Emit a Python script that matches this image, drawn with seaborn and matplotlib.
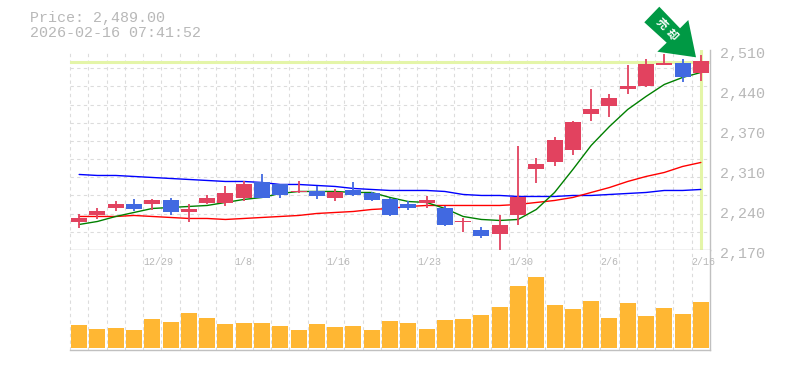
import matplotlib
matplotlib.use("Agg")
import matplotlib.pyplot as plt
from matplotlib.patches import Polygon
from matplotlib.transforms import ScaledTranslation
import numpy as np
import pandas as pd
import seaborn as sns

sns.set_style("white")
plt.rcParams['font.family'] = ['Liberation Mono', 'DejaVu Sans']

# ---------- data ----------
body_top = [2225.2,2235.5,2249.0,2247.4,2254.2,2254.2,2238.9,2257.6,2266.1,2283.0,2286.4,2283.0,2271.1,2271.1,2269.4,
            2272.8,2266.1,2255.9,2249.0,2254.2,2242.2,2220.1,2204.8,2213.3,2260.9,2317.0,2356.2,2386.8,2410.5,2427.6,
            2448.0,2485.4,2487.1,2487.1,2490.5]
body_bottom = [2218.4,2228.7,2240.6,2238.9,2247.4,2233.8,2233.8,2250.7,2250.7,2257.6,2259.2,2264.3,2269.4,2261.0,2259.2,
               2264.3,2254.2,2228.7,2242.2,2250.7,2213.3,2218.4,2194.6,2198.0,2230.3,2306.9,2320.4,2339.2,2400.4,2414.0,
               2442.9,2448.0,2483.7,2463.3,2470.1]
high = [2232.0,2242.2,2252.5,2255.9,2255.9,2259.2,2247.4,2264.3,2278.0,2288.0,2300.0,2283.0,2288.0,2279.6,2274.5,
        2286.4,2269.4,2259.2,2252.5,2261.0,2244.0,2225.2,2209.9,2230.3,2346.0,2327.2,2361.3,2388.5,2442.9,2434.4,
        2483.7,2493.9,2502.4,2493.9,2500.7]
low = [2208.2,2223.5,2235.5,2235.5,2237.2,2228.7,2218.4,2247.4,2244.0,2254.0,2259.0,2257.6,2267.7,2255.9,2252.5,
       2262.6,2252.5,2227.0,2237.2,2240.6,2211.6,2201.4,2191.2,2170.8,2213.3,2284.7,2313.6,2332.3,2388.5,2395.3,
       2434.4,2446.3,2483.7,2454.8,2456.5]
is_up = [1,1,1,0,1,0,1,1,1,1,0,0,1,0,1,0,0,0,0,1,0,1,0,1,1,1,1,1,1,1,1,1,1,0,1]
ma_blue = [2298.4,2296.7,2296.7,2295.0,2293.3,2291.6,2289.9,2288.2,2286.5,2286.5,2284.8,2281.4,2281.4,2279.7,2278.0,
           2274.6,2272.9,2271.2,2271.2,2271.2,2269.5,2264.4,2262.7,2262.7,2261.0,2261.0,2261.0,2262.7,2262.7,2264.4,
           2266.1,2267.8,2271.2,2271.2,2272.9]
ma_red = [2227.0,2227.0,2227.0,2228.7,2227.0,2225.3,2223.6,2223.6,2221.9,2223.6,2225.3,2227.0,2228.7,2232.1,2233.8,
          2235.5,2238.9,2240.6,2244.0,2245.7,2245.7,2245.7,2245.7,2245.7,2247.4,2250.8,2254.2,2259.3,2267.8,2276.2,
          2286.5,2295.0,2301.8,2312.0,2318.8]
ma_green = [2213.4,2218.5,2227.0,2233.8,2240.6,2242.3,2244.0,2245.7,2250.8,2255.9,2259.3,2266.1,2269.5,2269.5,2269.5,
            2267.8,2267.8,2259.3,2252.4,2250.8,2240.6,2227.0,2221.9,2220.2,2221.9,2238.9,2267.8,2306.9,2347.7,2379.9,
            2408.9,2431.0,2451.4,2463.3,2471.8]
volume = [23,19,20,18,29,26,35,30,24,25,25,22,18,24,21,22,18,27,25,19,28,29,33,41,62,71,43,39,47,30,45,32,40,34,46]
last_price = 2489.0
y_tick_values = [2510,2442,2374,2306,2238,2170]
y_tick_labels = ["2,510","2,440","2,370","2,310","2,240","2,170"]
x_label_idx = [3.5,8.5,13.5,18.5,23.5,28.5,33.5]
x_labels = ["12/29","1/8","1/16","1/23","1/30","2/6","2/16"]
title_lines = ["Price: 2,489.00","2026-02-16 07:41:52"]
arrow_glyphs = ["売", "却"]

# ---------- style ----------
W, H = 785, 370
C_UP, C_DOWN = "#e2425f", "#4169e1"
C_GRID, C_FRAME, C_TEXT = "#dcdcdc", "#c0c0c0", "#b8b8b8"
C_CROSS, C_VOL, C_ARROW = "#e4f5a8", "#ffb733", "#009944"
DASH = (0, (3, 3))

def px_rect(x0, y0, x1, y1):
    return [x0/W, 1-y1/H, (x1-x0)/W, (y1-y0)/H]

fig = plt.figure(figsize=(W/100, H/100), dpi=100, facecolor="white")
ax = fig.add_axes(px_rect(70, 50, 710, 250))
axv = fig.add_axes(px_rect(70, 250, 710, 350))

idx = np.arange(len(volume))
top, bot = np.array(body_top), np.array(body_bottom)
df = pd.DataFrame({"i": idx, "height": top-bot, "bottom": bot,
                   "dir": ["up" if u else "down" for u in is_up], "vol": volume})
palette = {"up": C_UP, "down": C_DOWN}

# moving averages
for vals, col in ((ma_blue, "#0000ff"), (ma_red, "#ff0000"), (ma_green, "#008000")):
    sns.lineplot(x=idx, y=vals, color=col, lw=1.0, ax=ax, zorder=2.2, errorbar=None)

# candles
wicks = ax.vlines(idx, low, high, colors=df["dir"].map(palette).tolist(), lw=1.3, zorder=3)
wicks.set_snap(True)
for d in ("up", "down"):
    sub = df[df["dir"] == d]
    ax.bar(sub["i"], sub["height"], bottom=sub["bottom"], width=0.875, color=palette[d],
           edgecolor="none", linewidth=0, zorder=3.1, antialiased=False)

# volume
sns.barplot(data=df, x="i", y="vol", color=C_VOL, saturation=1, width=0.875, ax=axv, zorder=3,
            edgecolor="none", linewidth=0, antialiased=False)

# last price crosshair
ax.axhline(last_price, color=C_CROSS, lw=2.2, zorder=1.5)
ax.axvline(idx[-1], color=C_CROSS, lw=2.2, zorder=1.5)

# axes
for a in (ax, axv):
    a.set_xlim(-0.5, len(idx)-0.5)
    a.set_xlabel(""); a.set_ylabel("")
    a.set_xticks([])
    a.set_xticks(idx-0.5, minor=True)
    a.grid(False)
    a.grid(True, which="minor", axis="x", color=C_GRID, lw=0.8, ls=DASH, zorder=0)
    a.set_axisbelow(True)
    a.tick_params(which="both", length=0, labelbottom=False)
    for s in a.spines.values():
        s.set_visible(False)
    for s in ("right", "bottom"):
        a.spines[s].set_visible(True)
        a.spines[s].set_color(C_FRAME)
        a.spines[s].set_linewidth(1.0)
    for t in a.xaxis.get_minor_ticks():
        t.gridline.set_clip_on(False)

ax.set_ylim(2170, 2510)
ax.set_yticks(np.linspace(2170, 2510, 12), minor=True)
ax.grid(True, which="minor", axis="y", color=C_GRID, lw=0.8, ls=DASH, zorder=0)
for t in ax.yaxis.get_minor_ticks():
    t.gridline.set_clip_on(False)
ax.yaxis.tick_right()
ax.set_yticks(y_tick_values, y_tick_labels)
ax.tick_params(axis="y", which="major", pad=7.3, labelsize=10.8, labelcolor=C_TEXT, length=0)
shift = ScaledTranslation(0, -3/100, fig.dpi_scale_trans)
for lab in ax.get_yticklabels():
    lab.set_transform(lab.get_transform() + shift)

axv.set_ylim(-2, 98)
axv.set_yticks([])

for xi, lab in zip(x_label_idx, x_labels):
    axv.annotate(lab, xy=(xi, 1), xycoords=("data", "axes fraction"), xytext=(0, -12),
                 textcoords="offset pixels", ha="left", va="center", fontsize=7.2,
                 color=C_TEXT, annotation_clip=False)

fig.text(30/W, 1-18/H, title_lines[0], fontsize=10.8, color=C_TEXT, ha="left", va="center")
fig.text(30/W, 1-33/H, title_lines[1], fontsize=10.8, color=C_TEXT, ha="left", va="center")

# signal arrow
arrow_px = [(659.3,6.7),(644.3,22.3),(666.7,42.7),(657.3,51.7),(696,57.3),(688.3,20),(680,28.3)]
fig.add_artist(Polygon([(x/W, 1-y/H) for x, y in arrow_px], closed=True, transform=fig.transFigure,
                       facecolor=C_ARROW, edgecolor="none", zorder=5))
for (gx, gy), g in zip([(662, 24), (671.7, 35)], arrow_glyphs):
    fig.text(gx/W, 1-gy/H, g, family=["Noto Sans CJK JP", "DejaVu Sans"], fontsize=8, fontweight="bold",
             color="white", rotation=-45, rotation_mode="anchor", ha="center", va="center", zorder=6)

fig.savefig("out.png", dpi=100)
